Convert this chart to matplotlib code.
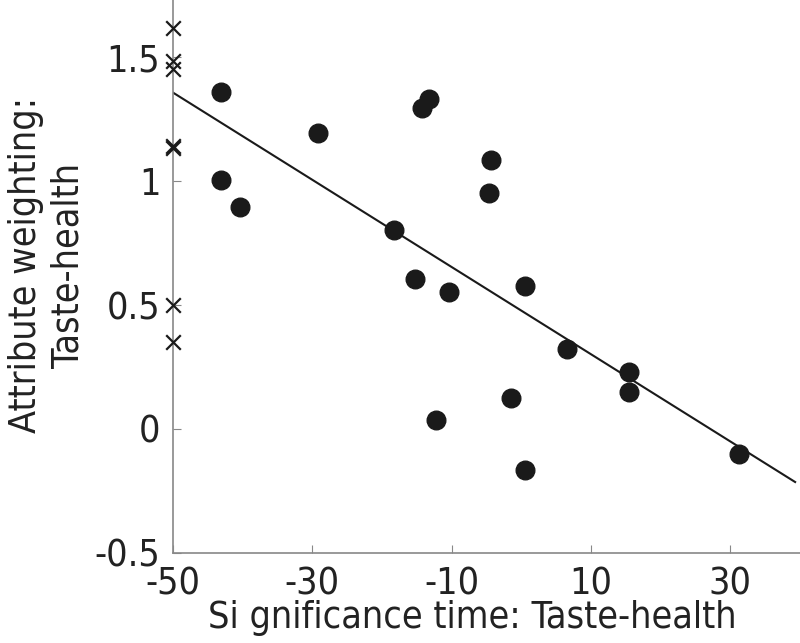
import numpy as np
import matplotlib
matplotlib.use("Agg")
import matplotlib.pyplot as plt

plt.rcParams['font.family'] = ['DejaVu Sans']
plt.rcParams['font.stretch'] = 'condensed'

# subjects: significance time vs attribute weighting
sig_time = [-43.1, -43.1, -40.3, -29.2, -18.3, -14.3, -13.3, -15.3, -12.3, -10.4,
            -4.4, -4.6, -1.4, 0.6, 0.6, 6.5, 15.4, 15.4, 31.3]
weighting = [1.357, 1.004, 0.896, 1.193, 0.803, 1.293, 1.329, 0.606, 0.036, 0.554,
             1.084, 0.952, 0.124, 0.578, -0.165, 0.321, 0.229, 0.149, -0.100]

# subjects without a significance time, plotted on the axis
nosig_weighting = [1.618, 1.486, 1.450, 1.142, 1.132, 0.502, 0.349]

xticks = [-50, -30, -10, 10, 30]
yticks = [-0.5, 0, 0.5, 1, 1.5]

fig = plt.figure(figsize=(8, 6.43), dpi=100)
ax = fig.add_axes([0.216, 0.14, 0.784, 0.86])

ax.scatter(sig_time, weighting, s=180, color='#1a1a1a', zorder=3)
ax.scatter([-50] * len(nosig_weighting), nosig_weighting, marker='x', s=110,
           color='#1a1a1a', linewidths=1.6, clip_on=False, zorder=4)

# least squares fit
slope, intercept = np.polyfit(sig_time, weighting, 1)
xl = np.array([-50, 39.3])
ax.plot(xl, slope * xl + intercept, color='#1a1a1a', lw=1.5)

ax.set_xlim(-50, 40)
ax.set_ylim(-0.5, 1.73)
ax.set_xticks(xticks)
ax.set_yticks(yticks)
ax.set_xticklabels([str(t) for t in xticks])
ax.set_yticklabels(['-0.5', '0', '0.5', '1', '1.5'])

for s in ['top', 'right']:
    ax.spines[s].set_visible(False)
for s in ['left', 'bottom']:
    ax.spines[s].set_color('#888888')
    ax.spines[s].set_linewidth(1.2)
ax.tick_params(direction='in', length=6, color='#888888', labelsize=27,
               labelcolor='#222222')
ax.tick_params(axis='x', pad=10)
ax.tick_params(axis='y', pad=9)

ax.set_xlabel('Si gnificance time: Taste-health', fontsize=27, color='#222222')
ax.xaxis.set_label_coords(0.477, -0.085)
ax.set_ylabel('Attribute weighting:\nTaste-health', fontsize=27, color='#222222',
              linespacing=1.25)
ax.yaxis.set_label_coords(-0.137, 0.52)

fig.savefig('out.png', dpi=100)
